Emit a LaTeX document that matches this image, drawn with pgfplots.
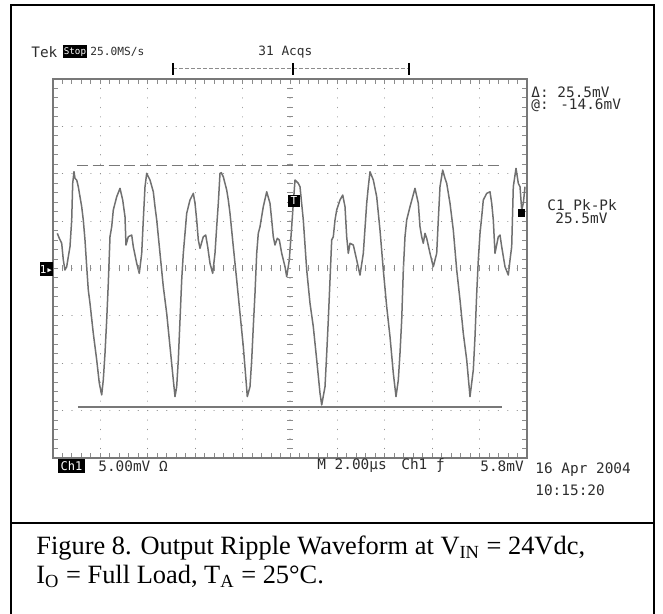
\documentclass[border=0pt]{standalone}
\usepackage{pgfplots}
\pgfplotsset{compat=1.18}
\usepackage{fontspec}
\setmainfont{Liberation Serif}
\newfontfamily\scopefont{DejaVu Sans Mono}
\definecolor{trace}{RGB}{112,112,112}
\definecolor{gridc}{RGB}{140,140,140}
\definecolor{framec}{RGB}{120,120,120}
\definecolor{txt}{RGB}{45,45,45}
\pgfplotstableread{
t v
0.181 3.71
0.266 3.19
0.367 2.66
0.435 0.90
0.506 -0.16
0.578 0.19
0.646 1.24
0.717 2.30
0.789 5.12
0.831 8.99
0.886 10.21
0.928 9.51
1.000 9.34
1.068 8.63
1.139 7.57
1.211 6.52
1.278 5.12
1.350 3.01
1.422 0.19
1.489 -2.27
1.561 -3.67
1.700 -6.84
1.844 -9.65
1.954 -12.11
2.055 -13.34
2.122 -11.76
2.194 -8.95
2.266 -5.43
2.333 -1.56
2.405 3.35
2.477 4.41
2.544 6.17
2.688 7.57
2.827 8.46
2.941 7.23
3.038 5.46
3.080 2.48
3.177 3.35
3.321 3.53
3.388 2.30
3.532 0.55
3.641 -0.51
3.743 1.60
3.810 5.12
3.882 8.63
3.954 10.04
4.093 9.34
4.232 8.10
4.304 6.52
4.376 5.12
4.515 1.60
4.654 -1.92
4.797 -4.73
4.937 -8.25
5.076 -11.76
5.148 -13.52
5.219 -12.47
5.287 -9.65
5.359 -5.43
5.430 -1.21
5.498 1.60
5.570 3.71
5.641 5.82
5.781 7.23
5.920 7.93
5.992 6.88
6.063 5.12
6.131 3.01
6.203 2.13
6.342 3.35
6.443 3.53
6.527 2.30
6.624 0.55
6.738 -0.51
6.835 1.60
6.907 4.41
6.975 6.88
7.046 10.04
7.101 10.11
7.186 9.68
7.329 8.28
7.397 7.23
7.468 5.82
7.608 2.30
7.751 -1.21
7.890 -4.73
8.030 -8.25
8.143 -11.76
8.198 -13.52
8.312 -12.47
8.384 -9.65
8.451 -6.14
8.523 -2.62
8.595 1.60
8.662 3.71
8.734 4.41
8.873 6.52
9.017 8.10
9.156 6.88
9.228 5.12
9.295 3.35
9.367 2.48
9.464 3.19
9.549 3.01
9.650 1.60
9.789 0.19
9.861 -0.86
9.970 0.90
10.072 4.41
10.139 6.88
10.211 9.34
10.350 8.99
10.422 8.63
10.561 5.12
10.705 -0.16
10.844 -3.67
10.983 -6.14
11.127 -9.65
11.266 -13.16
11.338 -14.40
11.477 -12.47
11.549 -8.95
11.616 -5.43
11.688 -1.21
11.759 3.01
11.827 3.35
11.899 5.12
11.970 6.17
12.110 7.23
12.224 7.75
12.321 6.52
12.392 3.35
12.460 1.60
12.532 2.66
12.671 2.48
12.814 0.90
12.954 -0.69
13.093 1.60
13.236 6.88
13.304 8.63
13.376 10.21
13.515 9.34
13.658 7.57
13.797 4.06
13.937 -0.16
14.080 -4.03
14.219 -7.19
14.359 -11.05
14.473 -13.52
14.570 -11.76
14.641 -8.95
14.713 -5.43
14.781 -0.16
14.852 3.35
14.924 5.12
15.063 6.52
15.274 8.46
15.414 6.88
15.485 4.41
15.557 3.35
15.624 2.66
15.696 3.71
15.768 3.19
15.907 1.60
16.046 0.19
16.190 1.60
16.257 5.12
16.329 8.63
16.443 10.39
16.540 9.51
16.612 8.99
16.751 6.88
16.890 4.06
17.034 -0.16
17.173 -3.32
17.312 -6.84
17.456 -9.65
17.595 -13.52
17.734 -10.71
17.806 -7.19
17.878 -2.62
17.945 0.90
18.017 3.71
18.089 5.46
18.156 7.23
18.300 7.93
18.439 8.10
18.511 6.88
18.578 5.12
18.650 1.60
18.789 3.35
18.861 3.53
18.932 2.30
19.072 0.19
19.211 -0.69
19.283 0.90
19.354 2.30
19.422 8.63
19.536 10.57
19.633 8.99
19.705 8.63
19.776 6.17
19.844 6.88
19.916 8.63
}\ripple
\begin{document}
\begin{tikzpicture}
\useasboundingbox (0,0) rectangle (331.5pt,307pt);
\begin{axis}[
  at={(26.5pt,78pt)}, anchor=south west,
  width=237pt, height=189.5pt, scale only axis,
  xmin=0, xmax=20, ymin=-20, ymax=20,
  xtick={0,2,...,20}, ytick={-20,-15,...,20},
  minor x tick num=4, minor y tick num=4,
  xticklabels={}, yticklabels={},
  tick align=inside,
  major tick length=2.5pt, minor tick length=2.5pt,
  tick style={gridc, line width=0.5pt},
  grid=major,
  major grid style={gridc, line width=0.6pt, line cap=round, dash pattern=on 0.01pt off 4.7275pt},
  axis line style={framec, line width=0.7pt},
  clip=false,
]
\addplot[framec, line width=0.6pt, dash pattern=on 5.5pt off 2.4pt] coordinates {(1.01,10.9) (18.99,10.9)};
\addplot[framec, line width=0.7pt] coordinates {(1.05,-14.6) (18.95,-14.6)};
\addplot[trace, line width=0.75pt, line join=round] table[x=t,y=v] {\ripple};
\end{axis}
\begin{axis}[
  at={(26.5pt,78pt)}, anchor=south west,
  width=237pt, height=189.5pt, scale only axis,
  xmin=-10, xmax=10, ymin=-20, ymax=20,
  axis lines=middle, axis line style={draw=none,-},
  xtick={-9.6,-9.2,...,9.7}, ytick={-19,-18,...,19},
  xticklabels={}, yticklabels={},
  tick align=center, major tick length=3pt,
  tick style={gridc, line width=0.5pt},
]
\addplot[draw=none] coordinates {(0,0)};
\end{axis}
\begin{scope}[x=0.5pt,y=-0.5pt,shift={(0pt,307pt)}]
  % outer frame
  \draw[line width=1pt] (11,630) -- (11,5) -- (654,5) -- (654,630);
  \draw[line width=1pt] (11,523.5) -- (654,523.5);
  % top bracket
  \draw[gridc, line width=0.5pt, dash pattern=on 2pt off 1pt] (173,69) -- (409,69);
  \draw[black, line width=1pt] (173,63) -- (173,75);
  \draw[black, line width=1pt] (292.6,63) -- (292.6,75);
  \draw[black, line width=1pt] (409,63) -- (409,75);
  % status texts
  \begin{scope}[every node/.style={inner sep=0pt, anchor=west, text=txt, font=\scopefont\fontsize{7.2}{8}\selectfont}]
    \node at (31,52) {Tek};
    \fill[black] (63,45.5) rectangle (87,58.5);
    \node[text=white, anchor=center, font=\scopefont\fontsize{4.6}{5}\selectfont] at (75,52) {Stop};
    \node[font=\scopefont\fontsize{5.6}{6}\selectfont] at (90,52) {25.0MS/s};
    \node[font=\scopefont\fontsize{6.4}{7}\selectfont] at (258,52) {31 Acqs};
    \node at (531,92) {Δ: 25.5mV};
    \node at (531,105) {@: -14.6mV};
    \node at (547,205) {C1 Pk-Pk};
    \node at (555,218) {25.5mV};
    \fill[black] (58,459) rectangle (85,473);
    \node[text=white, anchor=center, font=\scopefont\fontsize{6}{7}\selectfont] at (71.5,466) {Ch1};
    \node at (98,466) {5.00mV Ω};
    \node at (317,466) {M 2.00µs};
    \node at (401,466) {Ch1 ƒ};
    \node at (480,466) {5.8mV};
    \node at (535,470) {16 Apr 2004};
    \node at (535,490) {10:15:20};
    % markers
    \fill[black] (40,262) rectangle (53,276);
    \node[text=white, anchor=center, font=\scopefont\fontsize{5.5}{6}\selectfont] at (46.5,269) {1▸};
    \fill[black] (288,195) rectangle (300,207);
    \node[text=white, anchor=center, font=\scopefont\fontsize{5.5}{6}\selectfont] at (294,201) {T};
    \fill[black] (518,209) rectangle (525,217);
  \end{scope}
  % caption
  \node[inner sep=0pt, anchor=base west, font=\fontsize{13.2}{15}\selectfont] at (36,555) {Figure 8. Output Ripple Waveform at V\textsubscript{IN} = 24Vdc,};
  \node[inner sep=0pt, anchor=base west, font=\fontsize{13.2}{15}\selectfont] at (36,584) {I\textsubscript{O} = Full Load, T\textsubscript{A} = 25°C.};
\end{scope}
\end{tikzpicture}
\end{document}
